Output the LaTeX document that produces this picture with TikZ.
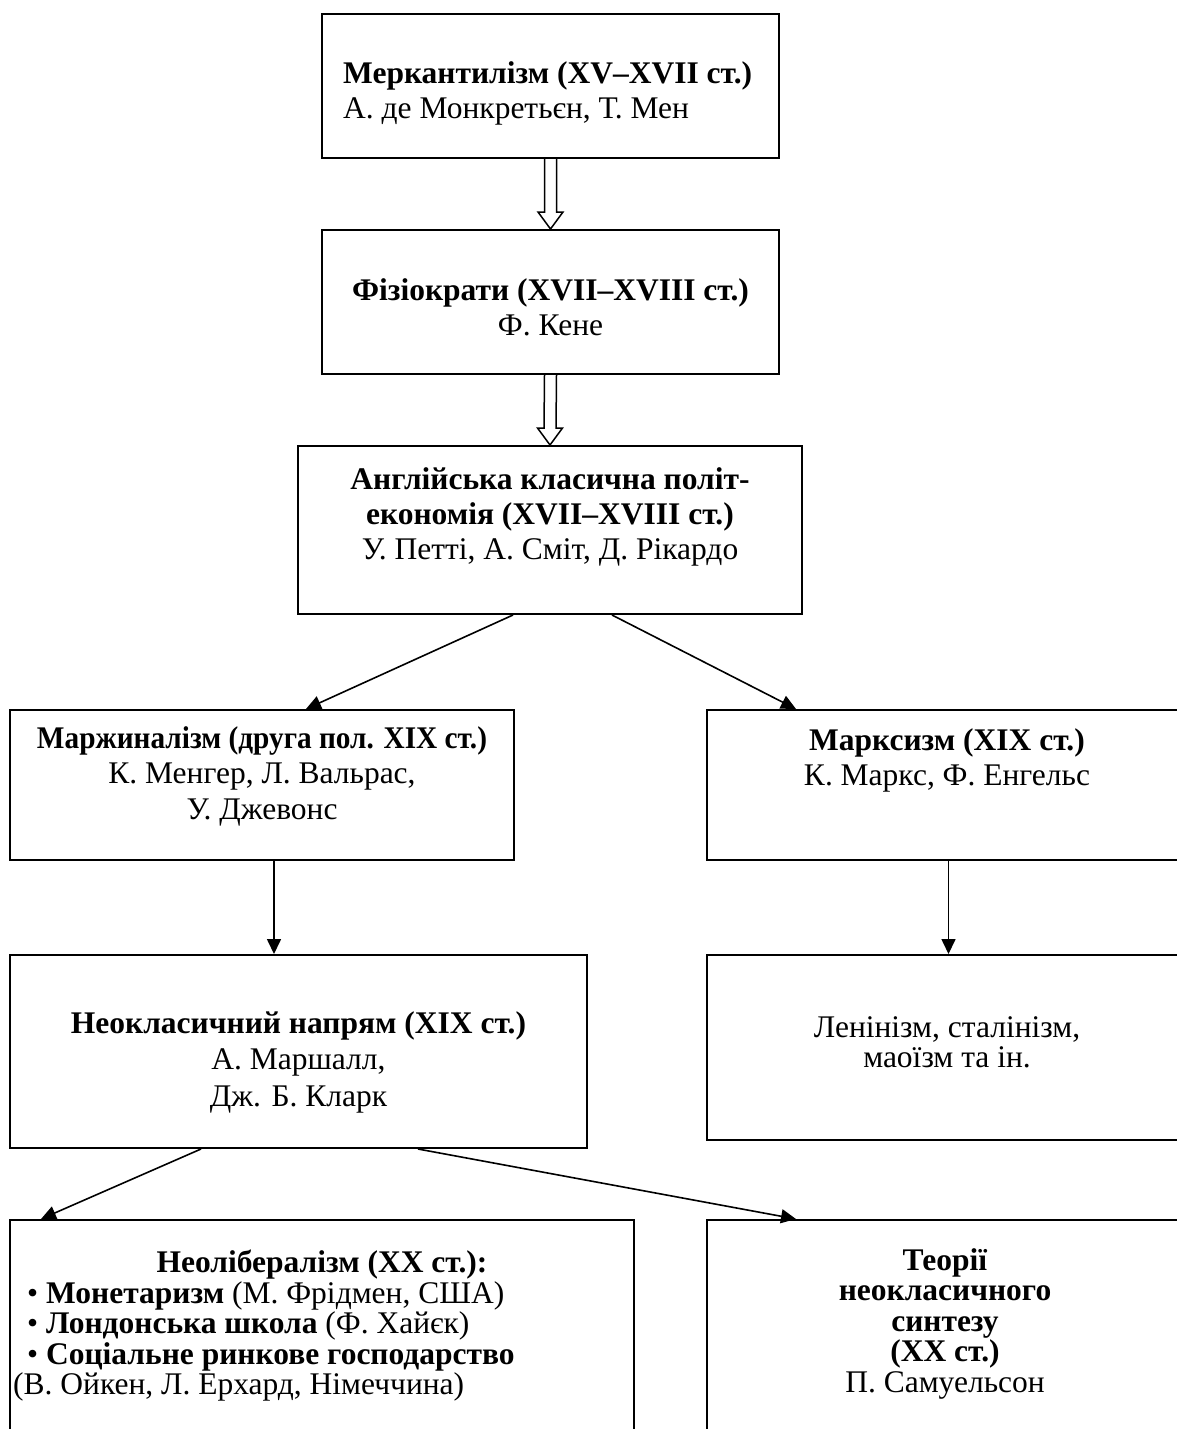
\documentclass[tikz,border=0pt]{standalone}
\usepackage{fontspec}
\setmainfont{Liberation Serif}
\usepackage{tikz}
\usetikzlibrary{arrows.meta}

\newcommand{\bigfont}{\fontsize{31.5}{35}\selectfont}
\newcommand{\tightfont}{\fontsize{31.5}{30.5}\selectfont}
\newcommand{\topstrut}{\rule{0pt}{25pt}}

\begin{document}
\begin{tikzpicture}[x=1pt,y=-1pt,
	box/.style={draw,line width=2pt,inner sep=0pt},
	txt/.style={inner sep=0pt,align=center,anchor=north,font=\bigfont},
	arr/.style={line width=1.6pt,-{Triangle[length=15pt,width=14pt]}},
	hollow/.style={line width=1.5pt,fill=white,line join=miter}]
		\useasboundingbox (0,0) rectangle (1177,1429);
		\clip (0,0) rectangle (1177,1429);
%		\draw[help lines,step=100] (0,0) grid (1177,1429);
		\path (550.5,86) coordinate (merc_c);
		\path (550.5,302) coordinate (phys_c);
		\path (550,530) coordinate (class_c);
		\path (262,785) coordinate (margin_c);
		\path (948.5,785) coordinate (marx_c);
		\path (298.5,1051.5) coordinate (neoclass_c);
		\path (948.5,1047.5) coordinate (lenin_c);
		\path (322,1335) coordinate (neolib_c);
		\path (948.5,1335) coordinate (synth_c);

		\node[box,minimum width=457pt,minimum height=144pt] (merc) at (merc_c) {};
		\node[box,minimum width=457pt,minimum height=144pt] (phys) at (phys_c) {};
		\node[box,minimum width=504pt,minimum height=168pt] (class) at (class_c) {};
		\node[box,minimum width=504pt,minimum height=150pt] (margin) at (margin_c) {};
		\node[box,minimum width=483pt,minimum height=150pt] (marx) at (marx_c) {};
		\node[box,minimum width=577pt,minimum height=193pt] (neoclass) at (neoclass_c) {};
		\node[box,minimum width=483pt,minimum height=185pt] (lenin) at (lenin_c) {};
		\node[box,minimum width=624pt,minimum height=230pt] (neolib) at (neolib_c) {};
		\node[box,minimum width=483pt,minimum height=230pt] (synth) at (synth_c) {};

		\node[txt,align=left,anchor=north west] (merc_text) at (343,58)
			{\topstrut\textbf{Меркантилізм (XV–XVII ст.)}\\А. де Монкретьєн, Т. Мен};
		\node[txt] (phys_text) at (550.5,275)
			{\topstrut\textbf{Фізіократи (XVII–XVIII ст.)}\\Ф. Кене};
		\node[txt] (class_text) at (550,464)
			{\topstrut\textbf{Англійська класична політ-}\\\textbf{економія (XVII–XVIII ст.)}\\У. Петті, А. Сміт, Д. Рікардо};
		\node[txt,font=\fontsize{31.5}{35.5}\selectfont] (margin_text) at (262,723)
			{\topstrut\scalebox{0.93}[1]{\textbf{Маржиналізм (друга пол. XIX ст.)}}\\К. Менгер, Л. Вальрас,\\У. Джевонс};
		\node[txt] (marx_text) at (947,725)
			{\topstrut\textbf{Марксизм (XIX ст.)}\\К. Маркс, Ф. Енгельс};
		\node[txt,font=\fontsize{31.5}{36.5}\selectfont] (neoclass_text) at (298.5,1008)
			{\topstrut\textbf{Неокласичний напрям (XIX ст.)}\\А. Маршалл,\\Дж. Б. Кларк};
		\node[txt,font=\tightfont] (lenin_text) at (947,1012)
			{\topstrut Ленінізм, сталінізм,\\маоїзм та ін.};
		\node[txt] (neolib_head) at (322,1247)
			{\topstrut\textbf{Неолібералізм (XX ст.):}};
		\node[txt,font=\tightfont,align=left,anchor=north west] (neolib_list) at (13,1278)
			{\topstrut\hspace{14pt}• \textbf{Монетаризм} (М. Фрідмен, США)\\\hspace{14pt}• \textbf{Лондонська школа} (Ф. Хайєк)\\\hspace{14pt}• \textbf{Соціальне ринкове господарство}\\(В. Ойкен, Л. Ерхард, Німеччина)};
		\node[txt,font=\tightfont] (synth_text) at (945,1245)
			{\topstrut\textbf{Теорії}\\\textbf{неокласичного}\\\textbf{синтезу}\\\textbf{(XX ст.)}\\П. Самуельсон};

		\draw[hollow] ([xshift=-6pt]merc.south) -- ([xshift=-6pt,yshift=17pt]phys.north)
			-- ([xshift=-12.5pt,yshift=17pt]phys.north) -- (phys.north)
			-- ([xshift=12.5pt,yshift=17pt]phys.north) -- ([xshift=6pt,yshift=17pt]phys.north)
			-- ([xshift=6pt]merc.south);
		\draw[hollow] ([xshift=-6pt]phys.south) -- ([xshift=-6pt,yshift=17pt]class.north)
			-- ([xshift=-12.5pt,yshift=17pt]class.north) -- (class.north)
			-- ([xshift=12.5pt,yshift=17pt]class.north) -- ([xshift=6pt,yshift=17pt]class.north)
			-- ([xshift=6pt]phys.south);
		\draw[arr] ([xshift=-37pt]class.south) -- ([xshift=44pt]margin.north);
		\draw[arr] ([xshift=62pt]class.south) -- ([xshift=-152.5pt]marx.north);
		\draw[arr] ([xshift=12pt]margin.south) -- ([xshift=-24.5pt]neoclass.north);
		\draw[arr] (marx.south) -- (lenin.north);
		\draw[arr] ([xshift=-97.5pt]neoclass.south) -- ([xshift=-281pt]neolib.north);
		\draw[arr] ([xshift=119.5pt]neoclass.south) -- ([xshift=-152.5pt]synth.north);
	\end{tikzpicture}
\end{document}
